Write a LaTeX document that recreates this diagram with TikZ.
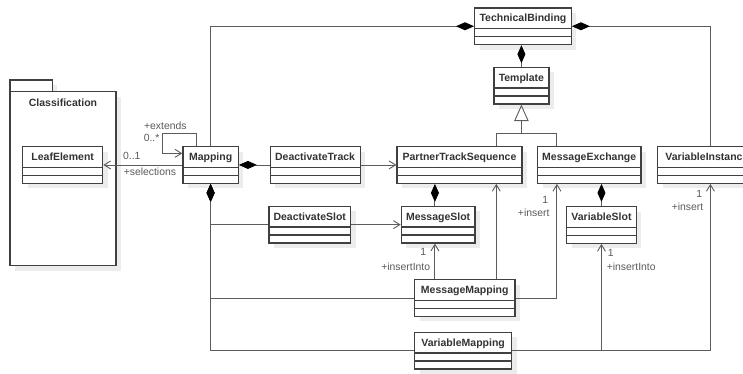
\documentclass[tikz,border=0pt]{standalone}
\usepackage{fontspec}
\setmainfont{Liberation Sans}
\usetikzlibrary{positioning, shadows, arrows.meta}

\definecolor{boxline}{HTML}{404040}
\definecolor{linkline}{HTML}{5C5C5C}
\definecolor{namegray}{HTML}{333333}
\definecolor{labelgray}{HTML}{5A5A5A}
\definecolor{shadowgray}{HTML}{ECECEC}

\begin{document}
\begin{tikzpicture}[x=1pt, y=-1pt,
    classbox/.style={draw=boxline, fill=white, line width=1.2pt,
        text=namegray, font=\fontsize{10.5}{12}\selectfont\bfseries, inner xsep=2pt, inner ysep=2pt,
        minimum height=36.7pt, text height=12pt, text depth=20.7pt,
        path picture={\draw[boxline, line width=1.2pt]
            ([yshift=-20.7pt]path picture bounding box.north west) -- ([yshift=-20.7pt]path picture bounding box.north east)
            ([yshift=-28.7pt]path picture bounding box.north west) -- ([yshift=-28.7pt]path picture bounding box.north east);},
        copy shadow={shadow xshift=5pt, shadow yshift=-5pt, draw=none, fill=shadowgray}},
    pkgbox/.style={draw=boxline, fill=white, line width=1.2pt, outer sep=0pt,
        copy shadow={shadow xshift=5pt, shadow yshift=-5pt, draw=none, fill=shadowgray}},
    pkgtitle/.style={text=namegray, font=\fontsize{10.5}{12}\selectfont\bfseries, inner sep=0pt},
    lbl/.style={text=labelgray, font=\fontsize{10.4}{12}\selectfont, inner sep=0pt},
    link/.style={draw=linkline, line width=0.9pt},
    assoc/.style={link, -{Straight Barb[length=6.5pt, width=8pt]}},
    compose/.style={link, -{Diamond[length=18pt, width=8pt, color=black]}},
    inherit/.style={link, -{Triangle[open, fill=white, length=16.5pt, width=14.5pt]}},
]
    \useasboundingbox (0,0) rectangle (743,373);
    \clip (0,0) rectangle (743,373);
    % package
    \node[pkgbox, minimum width=42.3pt, minimum height=11.7pt, anchor=south west] (pkgTab) at (10,91.7) {};
    \node[pkgbox, minimum width=106pt, minimum height=174pt, anchor=north west] (Classification) at (pkgTab.south west) {};
    \node[pkgtitle] (pkgTitle) at ([yshift=-11.3pt]Classification.north) {Classification};
    % classes
    \node[classbox, minimum width=55.4pt, anchor=north west] (Mapping) at (182.3,146) {Mapping};
    \node[classbox, minimum width=80pt]    (LeafElement)          [left=79pt of Mapping]            {LeafElement};
    \node[classbox, minimum width=90pt]    (DeactivateTrack)      [right=30.6pt of Mapping]         {DeactivateTrack};
    \node[classbox, minimum width=125pt]   (PartnerTrackSequence) [right=35.7pt of DeactivateTrack] {PartnerTrackSequence};
    \node[classbox, minimum width=103.4pt] (MessageExchange)      [right=14.3pt of PartnerTrackSequence] {MessageExchange};
    \node[classbox, minimum width=98.4pt]  (VariableInstance)     [right=15.6pt of MessageExchange] {VariableInstance};
    \node[classbox, minimum width=96.7pt, anchor=north west] (TechnicalBinding) at (474,7.3)    {TechnicalBinding};
    \node[classbox, minimum width=55pt,   anchor=north west] (Template)         at (493.3,66.7) {Template};
    \node[classbox, minimum width=81.7pt, anchor=north west] (DeactivateSlot)   at (268.3,205.7) {DeactivateSlot};
    \node[classbox, minimum width=73.6pt, anchor=north west] (MessageSlot)      at (400.7,205.7) {MessageSlot};
    \node[classbox, minimum width=69.7pt, anchor=north west] (VariableSlot)     at (566,206)    {VariableSlot};
    \node[classbox, minimum width=100.3pt, anchor=north west] (MessageMapping)  at (414,279)    {MessageMapping};
    \node[classbox, minimum width=97pt,   anchor=north west] (VariableMapping)  at (414,331.7)  {VariableMapping};
    % columns for the vertical lines
    \coordinate (msCol)   at ([xshift=-3.2pt]MessageSlot.south);
    \coordinate (ptsCol)  at ([xshift=36.8pt]PartnerTrackSequence.south);
    \coordinate (meCol)   at ([xshift=-32.3pt]MessageExchange.south);
    \coordinate (viCol)   at ([xshift=3.5pt]VariableInstance.south);
    \coordinate (genJoin) at ([yshift=-29pt]Template.south);
    % generalization
    \draw[link] (PartnerTrackSequence.north -| ptsCol) |- (genJoin) -| (MessageExchange.north -| meCol);
    \draw[inherit] (genJoin) -- (Template.south);
    % compositions
    \draw[compose] (Mapping.north) |- (TechnicalBinding.west);
    \draw[compose] (VariableInstance.north -| viCol) |- (TechnicalBinding.east);
    \draw[compose] (Template.north) -- (TechnicalBinding.south -| Template.north);
    \draw[compose] (DeactivateTrack.west) -- (Mapping.east);
    \draw[compose] (DeactivateSlot.west) -| (Mapping.south);
    \draw[compose] (MessageMapping.west) -| (Mapping.south);
    \draw[compose] (VariableMapping.west) -| (Mapping.south);
    \draw[compose] (MessageSlot.north -| msCol) -- (PartnerTrackSequence.south -| msCol);
    \draw[compose] (VariableSlot.north) -- (MessageExchange.south -| VariableSlot.north);
    % associations
    \draw[assoc] (Mapping.west) -- (LeafElement.east)
        node[lbl, at end, anchor=west, xshift=19.4pt, yshift=9.3pt] {0..1}
        node[lbl, at end, anchor=west, xshift=20pt, yshift=-6.4pt] {+selections};
    \draw[assoc] ([xshift=-14.3pt]Mapping.north) -- ++(0,-12.7) -- ++(-33.4,0)
        node[lbl, anchor=west, xshift=-19.3pt, yshift=7.6pt] {+extends}
        node[lbl, anchor=west, xshift=-19.6pt, yshift=-5pt] {0..*}
        |- ([yshift=11.6pt]Mapping.west);
    \draw[assoc] (DeactivateTrack.east) -- (PartnerTrackSequence.west);
    \draw[assoc] (DeactivateSlot.east) -- (MessageSlot.west);
    \draw[assoc] (MessageMapping.north -| msCol) -- (msCol)
        node[lbl, at end, anchor=east, xshift=-8.3pt, yshift=-8.7pt] {1}
        node[lbl, at end, anchor=east, xshift=-4.3pt, yshift=-22.7pt] {+insertInto};
    \draw[assoc] (MessageMapping.north -| ptsCol) -- (ptsCol);
    \draw[assoc] (MessageMapping.east) -| (meCol)
        node[lbl, at end, anchor=east, xshift=-8.4pt, yshift=-15.6pt] {1}
        node[lbl, at end, anchor=east, xshift=-7pt, yshift=-29pt] {+insert};
    \draw[assoc] (VariableMapping.east) -| (VariableSlot.south)
        node[lbl, at end, anchor=west, xshift=5.9pt, yshift=-9.4pt] {1}
        node[lbl, at end, anchor=west, xshift=4.9pt, yshift=-22.7pt] {+insertInto};
    \draw[assoc] (VariableMapping.east) -| (viCol)
        node[lbl, at end, anchor=east, xshift=-7.7pt, yshift=-10pt] {1}
        node[lbl, at end, anchor=east, xshift=-6.7pt, yshift=-23pt] {+insert};
\end{tikzpicture}
\end{document}
